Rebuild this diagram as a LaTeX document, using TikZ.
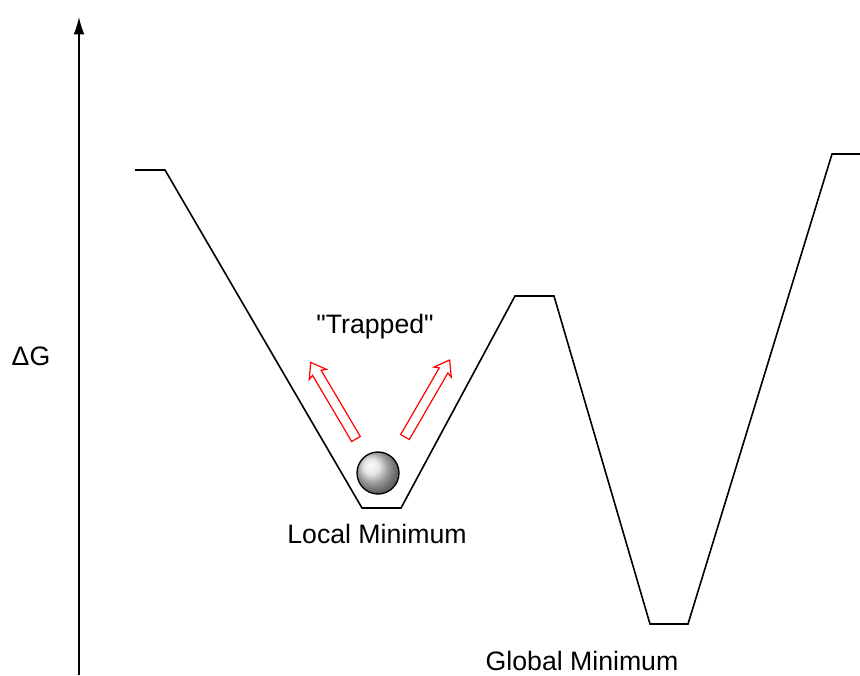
\documentclass[tikz,border=0pt]{standalone}
\usepackage{fontspec}
\setmainfont{Liberation Sans}[Ligatures=TeXOff]
\usetikzlibrary{arrows.meta}
\begin{document}
\begin{tikzpicture}[x=0.75pt,y=-0.75pt,
  lbl/.style={anchor=base,inner sep=0pt,font=\fontsize{20}{24}\selectfont},
  curve/.style={line width=1.2pt,line join=miter},
  axis/.style={line width=1pt,-{Latex[length=13pt,width=8pt]}},
  hollow/.style={draw=red,fill=white,line width=0.9pt,line join=miter}]
\useasboundingbox (0,0) rectangle (860,675);
% axis
\coordinate (ax0) at (79,675);
\coordinate (ax1) at (79,17);
\draw[axis] (ax0) -- (ax1);
% energy profile
\coordinate (p1) at (135,170);
\coordinate (p2) at (165,170);
\coordinate (p3) at (362,508);
\coordinate (p4) at (401,508);
\coordinate (p5) at (515,296);
\coordinate (p6) at (554,296);
\coordinate (p7) at (650,624);
\coordinate (p8) at (688,624);
\coordinate (p9) at (832,154);
\coordinate (p10) at (860,154);
\draw[curve] (p1) -- (p2) -- (p3) -- (p4) -- (p5) -- (p6) -- (p7) -- (p8) -- (p9) -- (p10);
% ball
\shade[ball color=white!75!gray] (378,473) circle[radius=21];
\draw[line width=1pt] (378,473) circle[radius=21];
% hollow arrows
\begin{scope}[shift={(356,439)},rotate=120.6]
\draw[hollow] (0,-5) -- (77,-5) -- (75,-10) -- (89,0) -- (75,10) -- (77,5) -- (0,5) -- cycle;
\end{scope}
\begin{scope}[shift={(405,437)},rotate=59.9]
\draw[hollow] (0,-5) -- (77,-5) -- (75,-10) -- (89,0) -- (75,10) -- (77,5) -- (0,5) -- cycle;
\end{scope}
% labels
\node[lbl] (dg) at (31,365) {ΔG};
\node[lbl] (trap) at (375,333) {"Trapped"};
\node[lbl] (loc) at (377,543) {Local Minimum};
\node[lbl] (glob) at (582,670) {Global Minimum};
\end{tikzpicture}
\end{document}
